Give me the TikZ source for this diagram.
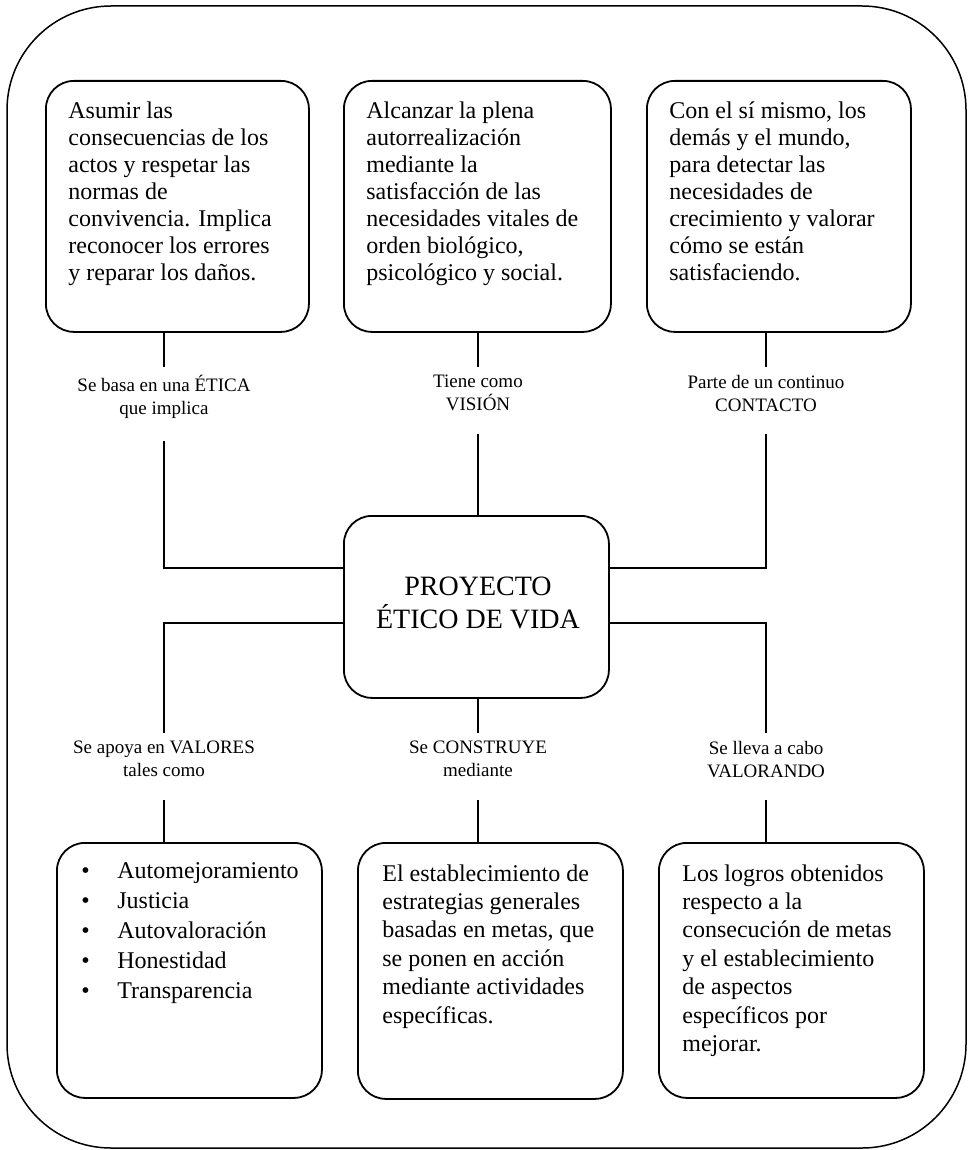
\documentclass[tikz,border=0pt]{standalone}
\usepackage{fontspec}
\setmainfont{Liberation Serif}
\usetikzlibrary{positioning}

\begin{document}
\begin{tikzpicture}[x=0.5pt,y=-0.5pt,
		caja/.style={draw,rounded corners=14pt,line width=0.9pt,inner sep=0pt,anchor=north west},
		texto/.style={anchor=north west,align=left,inner sep=0pt,font=\fontsize{12}{13.5}\selectfont},
		etiq/.style={align=center,inner xsep=0pt,inner ysep=4pt,anchor=north,font=\fontsize{9.5}{11.5}\selectfont,
			execute at begin node=\vphantom{É}},
		linea/.style={line width=0.75pt}]
	\useasboundingbox (0,0) rectangle (968,1150);
	% marco exterior
	\draw[line width=0.75pt,rounded corners=52pt] (7,6) rectangle (966,1148);
	% cajas superiores
	\node[caja,minimum width=131.5pt,minimum height=125.5pt] (etica) at (45,80) {};
	\node[caja,minimum width=133.5pt,minimum height=125.5pt] (vision) at (343,80) {};
	\node[caja,minimum width=132pt,minimum height=125.5pt] (contacto) at (646,80) {};
	\node[texto] (t-etica) at (68,101) {Asumir las\\consecuencias de los\\actos y respetar las\\normas de\\convivencia. Implica\\reconocer los errores\\y reparar los daños.};
	\node[texto] (t-vision) at (366,101) {Alcanzar la plena\\autorrealización\\mediante la\\satisfacción de las\\necesidades vitales de\\orden biológico,\\psicológico y social.};
	\node[texto] (t-contacto) at (669,101) {Con el sí mismo, los\\demás y el mundo,\\para detectar las\\necesidades de\\crecimiento y valorar\\cómo se están\\satisfaciendo.};
	% caja central
	\node[caja,minimum width=132.5pt,minimum height=91pt] (centro) at (343,515) {};
	\node[align=center,inner sep=0pt,font=\fontsize{14}{16.5}\selectfont] (t-centro) at (478,603) {PROYECTO\\ÉTICO DE VIDA};
	% cajas inferiores
	\node[caja,minimum width=132.5pt,minimum height=127.5pt] (valores) at (56,842) {};
	\node[caja,minimum width=132.5pt,minimum height=128pt] (construye) at (357,842) {};
	\node[caja,minimum width=132.5pt,minimum height=127.5pt] (valorando) at (658,842) {};
	\node[texto,font=\fontsize{12}{15}\selectfont] (t-valores) at (81,862) {\makebox[18pt][l]{\textbullet}Automejoramiento\\\makebox[18pt][l]{\textbullet}Justicia\\\makebox[18pt][l]{\textbullet}Autovaloración\\\makebox[18pt][l]{\textbullet}Honestidad\\\makebox[18pt][l]{\textbullet}Transparencia};
	\node[texto,font=\fontsize{12}{14.2}\selectfont] (t-construye) at (382,864) {El establecimiento de\\estrategias generales\\basadas en metas, que\\se ponen en acción\\mediante actividades\\específicas.};
	\node[texto,font=\fontsize{12}{14.2}\selectfont] (t-valorando) at (682,864) {Los logros obtenidos\\respecto a la\\consecución de metas\\y el establecimiento\\de aspectos\\específicos por\\mejorar.};
	% etiquetas
	\node[etiq] (l-etica) at (164,367) {Se basa en una ÉTICA\\que implica};
	\node[etiq] (l-vision) at (478,367) {Tiene como\\VISIÓN};
	\node[etiq] (l-contacto) at (766,367) {Parte de un continuo\\CONTACTO};
	\node[etiq] (l-valores) at (164,733) {Se apoya en VALORES\\tales como};
	\node[etiq] (l-construye) at (478,733) {Se CONSTRUYE\\mediante};
	\node[etiq] (l-valorando) at (766,733) {Se lleva a cabo\\VALORANDO};
	% uniones
	\coordinate (j-etica) at (164,568);
	\coordinate (j-contacto) at (766,568);
	\coordinate (j-valores) at (164,623);
	\coordinate (j-valorando) at (766,623);
	% conectores superiores
	\draw[linea] (l-etica.north |- etica.south) -- (l-etica.north);
	\draw[linea] ([yshift=-7pt]l-etica.south) -- (j-etica) -- (centro.west |- j-etica);
	\draw[linea] (l-vision.north |- vision.south) -- (l-vision.north);
	\draw[linea] ([yshift=-7pt]l-vision.south) -- (l-vision.south |- centro.north);
	\draw[linea] (l-contacto.north |- contacto.south) -- (l-contacto.north);
	\draw[linea] ([yshift=-7pt]l-contacto.south) -- (j-contacto) -- (centro.east |- j-contacto);
	% conectores inferiores
	\draw[linea] (centro.west |- j-valores) -- (j-valores) -- (l-valores.north);
	\draw[linea] ([yshift=-7pt]l-valores.south) -- (l-valores.south |- valores.north);
	\draw[linea] (l-construye.north |- centro.south) -- (l-construye.north);
	\draw[linea] ([yshift=-7pt]l-construye.south) -- (l-construye.south |- construye.north);
	\draw[linea] (centro.east |- j-valorando) -- (j-valorando) -- (l-valorando.north);
	\draw[linea] ([yshift=-7pt]l-valorando.south) -- (l-valorando.south |- valorando.north);
\end{tikzpicture}
\end{document}
